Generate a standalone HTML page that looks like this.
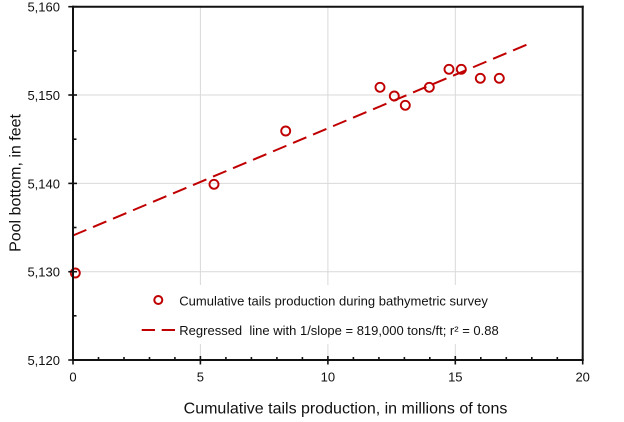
<!DOCTYPE html>
<html>
<head>
<meta charset="utf-8">
<style>
  html, body { margin:0; padding:0; background:#fff; }
  svg { display:block; }
  text { font-family: "Liberation Sans", Arial, sans-serif; fill:#111; }
</style>
</head>
<body>
<svg width="624" height="422" viewBox="0 0 624 422" xmlns="http://www.w3.org/2000/svg">
  <rect x="0" y="0" width="624" height="422" fill="#fff"/>
  <!-- gridlines -->
  <g stroke="#d9d9d9" stroke-width="1">
    <line x1="200.4" y1="6.7" x2="200.4" y2="360"/>
    <line x1="327.9" y1="6.7" x2="327.9" y2="360"/>
    <line x1="455.3" y1="6.7" x2="455.3" y2="360"/>
    <line x1="73" y1="271.7" x2="582.7" y2="271.7"/>
    <line x1="73" y1="183.4" x2="582.7" y2="183.4"/>
    <line x1="73" y1="95.0" x2="582.7" y2="95.0"/>
  </g>
  <!-- legend background -->
  <rect x="135" y="285" width="372" height="59" fill="#fff"/>

  <!-- regression line -->
  <line x1="73" y1="235.5" x2="528.3" y2="44" stroke="#c00000" stroke-width="2" stroke-dasharray="14.5 7.2"/>

  <!-- data points -->
  <g fill="none" stroke="#c00000" stroke-width="1.9">
    <circle cx="75.3" cy="273" r="4.5"/>
    <circle cx="214" cy="184.3" r="4.5"/>
    <circle cx="285.7" cy="131" r="4.5"/>
    <circle cx="380" cy="87.3" r="4.5"/>
    <circle cx="394.3" cy="96" r="4.5"/>
    <circle cx="405.3" cy="105.3" r="4.5"/>
    <circle cx="429.3" cy="87.3" r="4.5"/>
    <circle cx="449" cy="69.3" r="4.5"/>
    <circle cx="461.3" cy="69.3" r="4.5"/>
    <circle cx="480.3" cy="78.3" r="4.5"/>
    <circle cx="499.3" cy="78.3" r="4.5"/>
  </g>

  <!-- axes frame -->
  <g stroke="#111" stroke-width="2" fill="none">
    <line x1="72" y1="6.7" x2="583.7" y2="6.7"/>
    <line x1="582.7" y1="5.7" x2="582.7" y2="361"/>
    <line x1="73" y1="5.7" x2="73" y2="361"/>
    <line x1="72" y1="360" x2="583.7" y2="360"/>
  </g>
  <!-- y ticks -->
  <g stroke="#111" stroke-width="1.6">
    <line x1="68.3" y1="6.7" x2="77" y2="6.7"/>
    <line x1="68.3" y1="95.0" x2="77" y2="95.0"/>
    <line x1="68.3" y1="183.4" x2="77" y2="183.4"/>
    <line x1="68.3" y1="271.7" x2="77" y2="271.7"/>
    <line x1="68.3" y1="360" x2="77" y2="360"/>
    <line x1="73" y1="50.9" x2="76.5" y2="50.9"/>
    <line x1="73" y1="139.2" x2="76.5" y2="139.2"/>
    <line x1="73" y1="227.5" x2="76.5" y2="227.5"/>
    <line x1="73" y1="315.8" x2="76.5" y2="315.8"/>
  </g>
  <!-- x ticks -->
  <g stroke="#111" stroke-width="1.6">
    <line x1="73" y1="356" x2="73" y2="364.5"/>
    <line x1="200.4" y1="356" x2="200.4" y2="364.5"/>
    <line x1="327.9" y1="356" x2="327.9" y2="364.5"/>
    <line x1="455.3" y1="356" x2="455.3" y2="364.5"/>
    <line x1="582.7" y1="356" x2="582.7" y2="364.5"/>
    <line x1="98.5" y1="357" x2="98.5" y2="360"/>
    <line x1="124" y1="357" x2="124" y2="360"/>
    <line x1="149.5" y1="357" x2="149.5" y2="360"/>
    <line x1="174.9" y1="357" x2="174.9" y2="360"/>
    <line x1="225.9" y1="357" x2="225.9" y2="360"/>
    <line x1="251.4" y1="357" x2="251.4" y2="360"/>
    <line x1="276.9" y1="357" x2="276.9" y2="360"/>
    <line x1="302.4" y1="357" x2="302.4" y2="360"/>
    <line x1="353.4" y1="357" x2="353.4" y2="360"/>
    <line x1="378.9" y1="357" x2="378.9" y2="360"/>
    <line x1="404.4" y1="357" x2="404.4" y2="360"/>
    <line x1="429.8" y1="357" x2="429.8" y2="360"/>
    <line x1="480.8" y1="357" x2="480.8" y2="360"/>
    <line x1="506.3" y1="357" x2="506.3" y2="360"/>
    <line x1="531.8" y1="357" x2="531.8" y2="360"/>
    <line x1="557.3" y1="357" x2="557.3" y2="360"/>
  </g>

  <!-- y tick labels -->
  <g font-size="13" text-anchor="end">
    <text x="60" y="11.6">5,160</text>
    <text x="60" y="99.9">5,150</text>
    <text x="60" y="188.3">5,140</text>
    <text x="60" y="276.6">5,130</text>
    <text x="60" y="364.9">5,120</text>
  </g>
  <!-- x tick labels -->
  <g font-size="13" text-anchor="middle">
    <text x="73" y="381.5">0</text>
    <text x="200.4" y="381.5">5</text>
    <text x="327.9" y="381.5">10</text>
    <text x="455.3" y="381.5">15</text>
    <text x="582.7" y="381.5">20</text>
  </g>

  <!-- axis titles -->
  <text x="345.5" y="413.3" font-size="16" text-anchor="middle">Cumulative tails production, in millions of tons</text>
  <text transform="translate(20.7,183) rotate(-90)" font-size="16" text-anchor="middle">Pool bottom, in feet</text>

  <!-- legend -->
  <circle cx="158.3" cy="300" r="4" fill="none" stroke="#c00000" stroke-width="2"/>
  <text x="179.3" y="305.5" font-size="13">Cumulative tails production during bathymetric survey</text>
  <line x1="141.7" y1="330" x2="155" y2="330" stroke="#c00000" stroke-width="2"/>
  <line x1="161.7" y1="330" x2="175" y2="330" stroke="#c00000" stroke-width="2"/>
  <text x="179.3" y="335" font-size="13" xml:space="preserve">Regressed  line with 1/slope = 819,000 tons/ft; r² = 0.88</text>
</svg>
</body>
</html>
